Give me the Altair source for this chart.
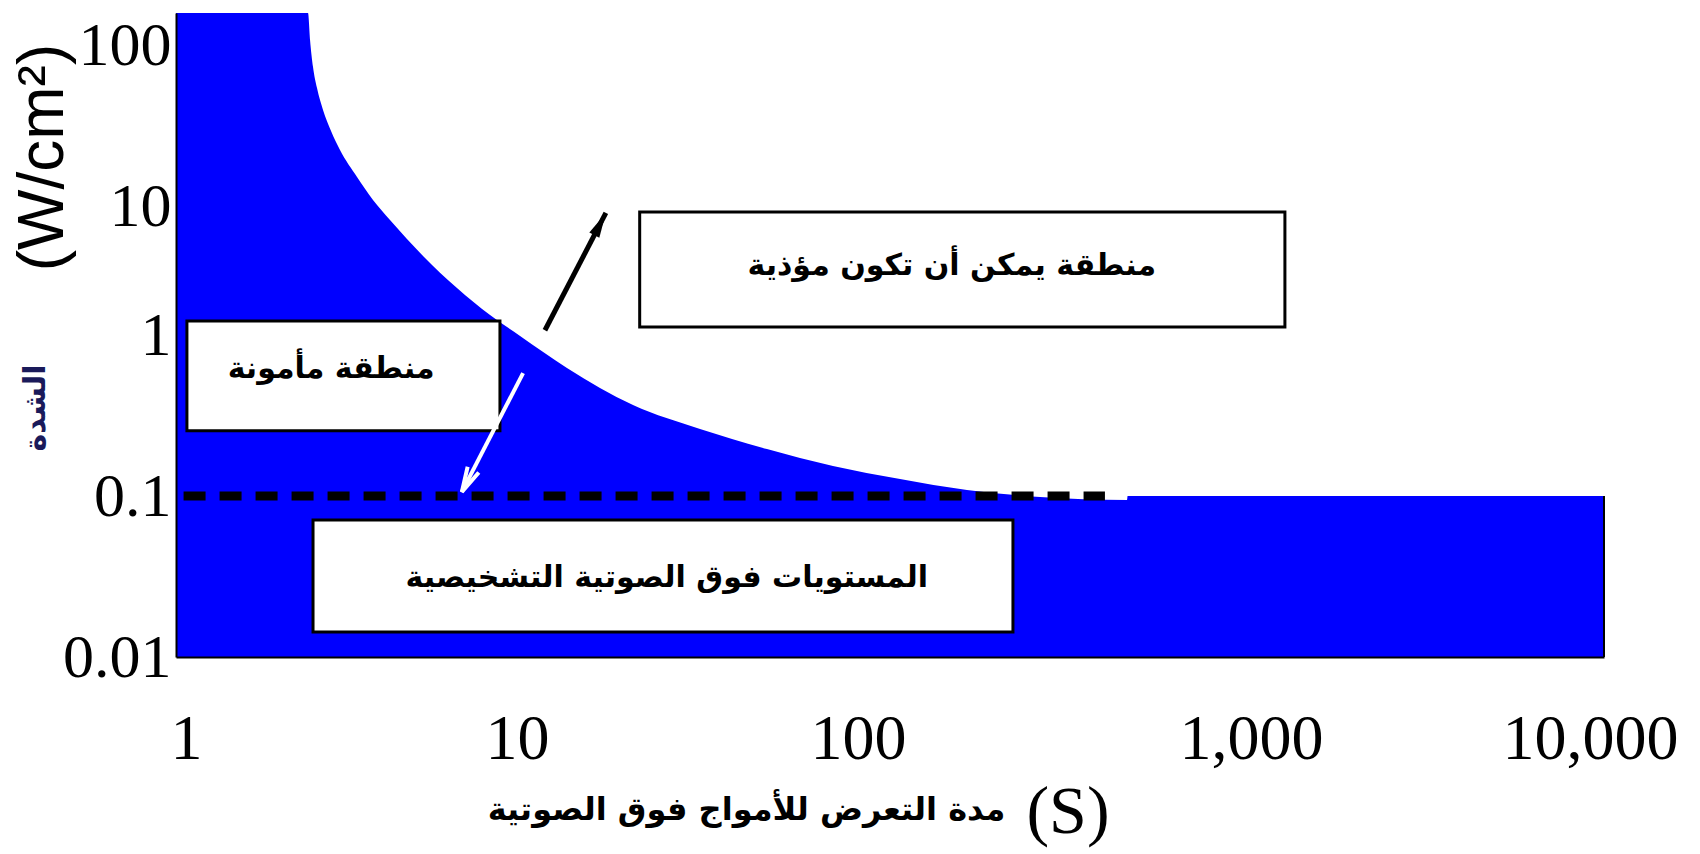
import altair as alt
import pandas as pd

# ---- data ----
# boundary of the blue region (exposure time s, intensity W/cm2)
curve_t = [1, 2.343, 2.374, 2.42, 2.483, 2.581, 2.718, 2.88, 3.214, 3.563, 3.976, 4.92,
           6.125, 7.58, 9.2, 12.45, 19.06, 29.37, 45.23, 69.23, 106.7, 164.3, 263.2,
           461.2, 463, 10000]
curve_I = [100, 100, 67.96, 46.2, 34.2, 24.98, 18.5, 14.1, 9.58, 6.9, 5.18, 3.1,
           1.958, 1.331, 0.986, 0.624, 0.367, 0.2607, 0.1958, 0.1536, 0.1275, 0.109, 0.0986,
           0.0945, 0.1, 0.1]
floor_I = 0.01

# dashed diagnostic-level line
dash_t = [1.05, 400]
dash_I = 0.1

# text boxes
box_labels = ["منطقة يمكن أن تكون مؤذية", "منطقة مأمونة", "المستويات فوق الصوتية التشخيصية"]
box_t1 = [19.9, 1.073, 2.42]
box_t2 = [1277, 8.08, 221]
box_I1 = [5.8, 1.22, 0.071]
box_I2 = [1.12, 0.254, 0.0143]
label_t = [149, 2.72, 23.7]
label_I = [2.69, 0.615, 0.031]

# arrows: start -> tip
black_arrow = {"t0": [10.8], "I0": [1.07], "t1": [16.0], "I1": [5.73]}
white_arrow = {"t0": [9.38], "I0": [0.58], "t1": [6.32], "I1": [0.106]}

x_tick_values = [1, 10, 100, 1000, 10000]
y_tick_values = [0.01, 0.1, 1, 10, 100]

x_title = "مدة التعرض للأمواج فوق الصوتية"
x_unit = "(S)"
y_title = "(W/cm²)"
y_title_ar = "الشدة"

x_scale = alt.Scale(type="log", domain=[1, 10000], nice=False)
y_scale = alt.Scale(type="log", domain=[0.01, 100], nice=False)

x_axis = alt.Axis(
    values=x_tick_values, format=",",
    title=x_title, titleFont="DejaVu Sans", titleFontWeight="bold", titleFontSize=32,
    titleColor="black", titleX=570, titleY=152, titleAlign="center", titleBaseline="middle",
    labelFont="Liberation Serif", labelFontSize=64, labelColor="black",
    labelBaseline="middle", labelPadding=82, labelFlush=False,
    labelOffset={"condition": [{"test": "datum.value == 1", "value": 10},
                               {"test": "datum.value == 10", "value": -16},
                               {"test": "datum.value == 100", "value": -32},
                               {"test": "datum.value == 10000", "value": -14}],
                 "value": 4},
    ticks=False, domainColor="black", domainWidth=2, grid=False, zindex=1,
)
y_axis = alt.Axis(
    values=y_tick_values, format="~g",
    title=y_title, titleFont="Liberation Sans", titleFontWeight="normal", titleFontSize=64,
    titleColor="black", titleAngle=270, titleX=-133, titleY=144, titleAlign="center",
    titleBaseline="middle",
    labelFont="Liberation Serif", labelFontSize=62, labelColor="black", labelPadding=5,
    labelBaseline="middle", labelFlush=False,
    labelOffset={"condition": {"test": "datum.value >= 10", "value": 32}, "value": 0},
    ticks=False, domainColor="black", domainWidth=2, grid=False, zindex=1,
)

area_df = pd.DataFrame({"t": curve_t, "I": curve_I, "base": floor_I})
area = alt.Chart(area_df).mark_area(color="#0000FF", opacity=1, interpolate="monotone").encode(
    x=alt.X("t:Q", scale=x_scale, axis=x_axis),
    y=alt.Y("I:Q", scale=y_scale, axis=y_axis),
    y2="base:Q",
)

# thin dark outline on the right end of the blue region
edge_df = pd.DataFrame({"t": [curve_t[-1]], "I": [curve_I[-1]], "base": [floor_I]})
edge = alt.Chart(edge_df).mark_rule(color="black", strokeWidth=2).encode(
    x=alt.X("t:Q", scale=x_scale),
    y=alt.Y("I:Q", scale=y_scale), y2="base:Q",
)

dash_df = pd.DataFrame({"t1": [dash_t[0]], "t2": [dash_t[1]], "I": [dash_I]})
dash = alt.Chart(dash_df).mark_rule(color="black", strokeWidth=9, strokeDash=[22, 14]).encode(
    x=alt.X("t1:Q", scale=x_scale),
    x2="t2:Q",
    y=alt.Y("I:Q", scale=y_scale),
)

box_df = pd.DataFrame({"label": box_labels, "t1": box_t1, "t2": box_t2, "I1": box_I1,
                       "I2": box_I2, "lt": label_t, "lI": label_I})
boxes = alt.Chart(box_df).mark_rect(fill="white", stroke="black", strokeWidth=3).encode(
    x=alt.X("t1:Q", scale=x_scale), x2="t2:Q",
    y=alt.Y("I1:Q", scale=y_scale), y2="I2:Q",
)
box_text = alt.Chart(box_df).mark_text(
    font="DejaVu Sans", fontWeight="bold", fontSize=30, color="black",
    align="center", baseline="middle").encode(
    x=alt.X("lt:Q", scale=x_scale),
    y=alt.Y("lI:Q", scale=y_scale),
    text="label:N",
)

black_df = pd.DataFrame(black_arrow)
white_df = pd.DataFrame(white_arrow)

black_line = alt.Chart(black_df).mark_rule(color="black", strokeWidth=5).encode(
    x=alt.X("t0:Q", scale=x_scale), x2="t1:Q",
    y=alt.Y("I0:Q", scale=y_scale), y2="I1:Q",
)
black_head = alt.Chart(black_df).mark_point(
    shape="M 0 0 L -0.45 2 L 0.45 2 Z", filled=True, size=625, angle=27.5,
    color="black", opacity=1).encode(
    x=alt.X("t1:Q", scale=x_scale),
    y=alt.Y("I1:Q", scale=y_scale),
)
white_line = alt.Chart(white_df).mark_rule(color="white", strokeWidth=4).encode(
    x=alt.X("t0:Q", scale=x_scale), x2="t1:Q",
    y=alt.Y("I0:Q", scale=y_scale), y2="I1:Q",
)
white_head = alt.Chart(white_df).mark_point(
    shape="M -0.5 2 L 0 0 L 0.5 2", filled=False, size=625, angle=207,
    stroke="white", strokeWidth=4, opacity=1).encode(
    x=alt.X("t1:Q", scale=x_scale),
    y=alt.Y("I1:Q", scale=y_scale),
)

unit_text = alt.Chart(pd.DataFrame({"s": [x_unit]})).mark_text(
    font="Liberation Serif", fontSize=68, color="black", align="center",
    baseline="middle").encode(text="s:N", x=alt.value(892), y=alt.value(800))

yar_text = alt.Chart(pd.DataFrame({"s": [y_title_ar]})).mark_text(
    font="DejaVu Sans", fontWeight="bold", fontSize=30, color="#1a1a5a", align="center",
    baseline="middle", angle=270).encode(text="s:N", x=alt.value(-140), y=alt.value(395))

chart = alt.layer(
    area, edge, dash, boxes, box_text, black_line, black_head, white_line, white_head,
    unit_text, yar_text,
).properties(
    width=1428, height=644,
    autosize=alt.AutoSizeParams(type="none"),
    padding={"left": 176, "top": 13, "right": 96, "bottom": 197},
    background="white",
).configure_view(strokeWidth=0)

chart.save("out.html", embed_options={"renderer": "svg", "actions": False})
